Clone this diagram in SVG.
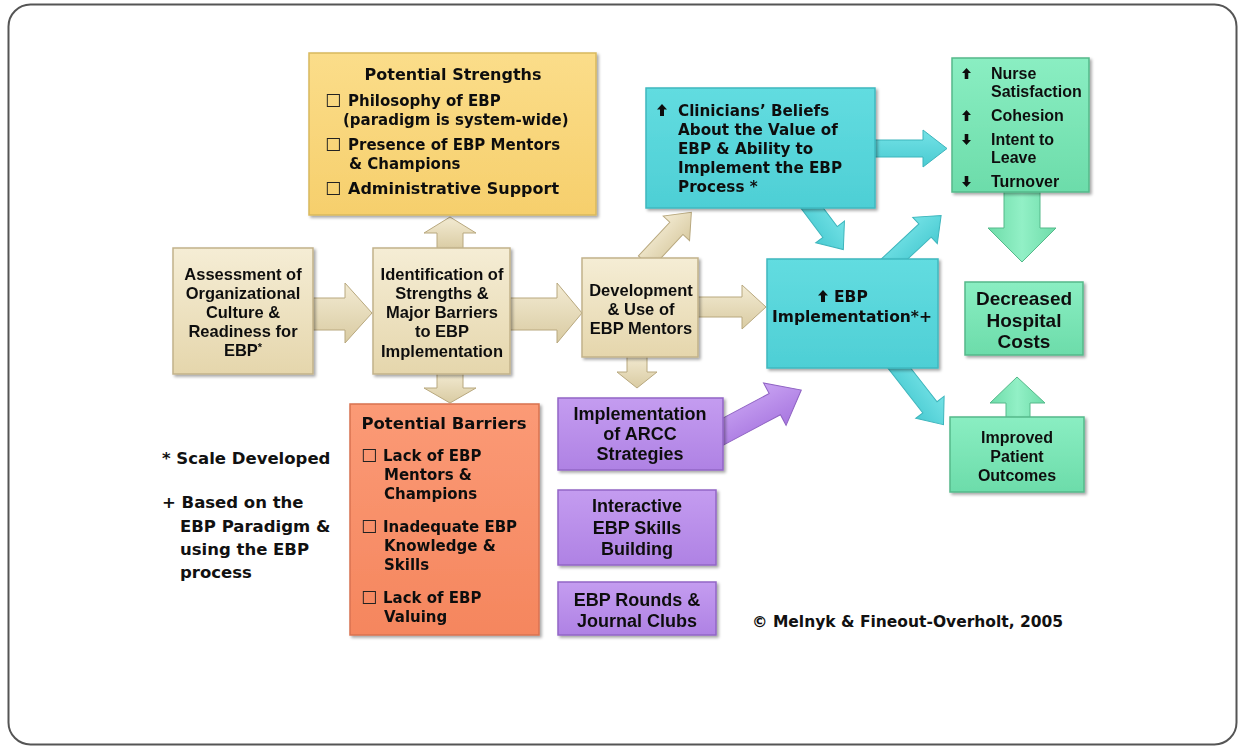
<svg xmlns="http://www.w3.org/2000/svg" width="1238" height="746" viewBox="0 0 1238 746">
<defs>
<style>
.dv{font-family:"DejaVu Sans","Noto Sans",sans-serif;font-weight:bold;fill:#111}
.lb{font-family:"Liberation Sans",Arial,sans-serif;font-weight:bold;fill:#111}
.c{text-anchor:middle}
.cb{font-family:"DejaVu Sans","Noto Sans",sans-serif;font-size:18px;fill:#222}
.box{filter:url(#sh)}
.arB{fill:url(#gArB);stroke:#B8A87E;stroke-width:1}
.arC{fill:url(#gArC);stroke:#3DB5BC;stroke-width:1}
.arG{fill:url(#gArG);stroke:#55B98A;stroke-width:1}
.arP{fill:url(#gArP);stroke:#8E62C2;stroke-width:1}
.ic{fill:#111}
</style>
<filter id="sh" x="-10%" y="-10%" width="130%" height="130%">
<feDropShadow dx="2" dy="2" stdDeviation="1.5" flood-color="#000" flood-opacity="0.35"/>
</filter>
<symbol id="up" viewBox="0 0 10 12" overflow="visible"><polygon points="5,0 10,5.5 7,5.5 7,12 3,12 3,5.5 0,5.5"/></symbol>
<symbol id="down" viewBox="0 0 10 12" overflow="visible"><polygon points="5,12 10,6.5 7,6.5 7,0 3,0 3,6.5 0,6.5"/></symbol>
<linearGradient id="gBeige" x1="0" y1="0" x2="0" y2="1"><stop offset="0" stop-color="#F5EDD5"/><stop offset="1" stop-color="#E5D6AC"/></linearGradient>
<linearGradient id="gYellow" x1="0" y1="0" x2="0" y2="1"><stop offset="0" stop-color="#FBDD8A"/><stop offset="1" stop-color="#F6CF6C"/></linearGradient>
<linearGradient id="gCyan" x1="0" y1="0" x2="0" y2="1"><stop offset="0" stop-color="#62DCE0"/><stop offset="1" stop-color="#4ECFD5"/></linearGradient>
<linearGradient id="gGreen" x1="0" y1="0" x2="0" y2="1"><stop offset="0" stop-color="#8AEEC2"/><stop offset="1" stop-color="#6CDCAA"/></linearGradient>
<linearGradient id="gOrange" x1="0" y1="0" x2="0" y2="1"><stop offset="0" stop-color="#FB9A76"/><stop offset="1" stop-color="#F5865E"/></linearGradient>
<linearGradient id="gPurple" x1="0" y1="0" x2="0" y2="1"><stop offset="0" stop-color="#C49CF0"/><stop offset="1" stop-color="#AF82E4"/></linearGradient>
<linearGradient id="gArB" x1="0" y1="0" x2="0" y2="1"><stop offset="0" stop-color="#F3EBD3"/><stop offset="1" stop-color="#D9CBA2"/></linearGradient>
<linearGradient id="gArC" x1="0" y1="0" x2="0" y2="1"><stop offset="0" stop-color="#74E2E6"/><stop offset="1" stop-color="#4ACBD2"/></linearGradient>
<linearGradient id="gArG" x1="0" y1="0" x2="1" y2="0"><stop offset="0" stop-color="#6EDCA9"/><stop offset="0.5" stop-color="#92F0C6"/><stop offset="1" stop-color="#6EDCA9"/></linearGradient>
<linearGradient id="gArP" x1="0" y1="0" x2="0" y2="1"><stop offset="0" stop-color="#C8A2F2"/><stop offset="1" stop-color="#A877E0"/></linearGradient>
</defs>

<rect x="0" y="0" width="1238" height="746" fill="#fff"/>
<rect x="8.5" y="4.5" width="1228" height="740" rx="22" fill="#fff" stroke="#555" stroke-width="2"/>

<g id="connectors">
<polygon class="arB" points="313,298 345,298 345,283 372,313 345,343 345,330 313,330"/>
<polygon class="arB" points="510,298 557,298 557,283 582,313 557,343 557,330 510,330"/>
<polygon class="arB" points="697,297 742,297 742,285 766,307 742,329 742,317 697,317"/>
<polygon class="arB" points="437,250 437,233 424,233 450,217 476,233 463,233 463,250"/>
<polygon class="arB" points="437,372 437,388 424,388 450,403 476,388 463,388 463,372"/>
<polygon class="arB" points="0,-9 46,-9 46,-18 68,0 46,18 46,9 0,9" transform="translate(645,262) rotate(-47)"/>
<polygon class="arB" points="627,355 627,372 617,372 637,388 657,372 647,372 647,355"/>
<polygon class="arC" points="873,140 923,140 923,130 947,148.5 923,167 923,157 873,157"/>
<polygon class="arC" points="0,-9 40,-9 40,-18 62,0 40,18 40,9 0,9" transform="translate(806,200) rotate(53)"/>
<polygon class="arC" points="0,-9 52,-9 52,-18 74,0 52,18 52,9 0,9" transform="translate(887,266) rotate(-43)"/>
<polygon class="arC" points="0,-9 60,-9 60,-18 82,0 60,18 60,9 0,9" transform="translate(893,360) rotate(52)"/>
<polygon class="arG" points="1004,190 1004,228 988,228 1022,262 1056,228 1040,228 1040,190"/>
<polygon class="arG" points="1006,419 1006,403 990,403 1017,377 1045,403 1030,403 1030,419"/>
<polygon class="arP" points="0,-12 70,-12 70,-24 100,0 70,24 70,12 0,12" transform="translate(713,437) rotate(-28)"/>
</g>

<g id="strengths" class="box">
<rect x="309" y="53" width="287" height="162" fill="url(#gYellow)" stroke="#D9B95E" stroke-width="1.5"/>
<text class="dv c" x="453" y="80" font-size="16">Potential Strengths</text>
<text class="cb" x="325" y="107">☐</text>
<text class="dv" x="348" y="106" font-size="15">Philosophy of EBP</text>
<text class="dv" x="343" y="125" font-size="15">(paradigm is system-wide)</text>
<text class="cb" x="325" y="151">☐</text>
<text class="dv" x="348" y="150" font-size="15">Presence of EBP Mentors</text>
<text class="dv" x="349" y="169" font-size="15">&amp; Champions</text>
<text class="cb" x="325" y="195">☐</text>
<text class="dv" x="348" y="194" font-size="16">Administrative Support</text>
</g>

<g id="assessment" class="box">
<rect x="173" y="248" width="140" height="126" fill="url(#gBeige)" stroke="#C2B28A" stroke-width="1.5"/>
<text class="lb c" x="243" y="280" font-size="16.5">Assessment of</text>
<text class="lb c" x="243" y="299" font-size="16.5">Organizational</text>
<text class="lb c" x="243" y="318" font-size="16.5">Culture &amp;</text>
<text class="lb c" x="243" y="337" font-size="16.5">Readiness for</text>
<text class="lb c" x="243" y="356" font-size="16.5">EBP<tspan font-size="11" dy="-5">*</tspan></text>
</g>

<g id="identification" class="box">
<rect x="373" y="248" width="137" height="126" fill="url(#gBeige)" stroke="#C2B28A" stroke-width="1.5"/>
<text class="lb c" x="442" y="280" font-size="16.5">Identification of</text>
<text class="lb c" x="442" y="299" font-size="16.5">Strengths &amp;</text>
<text class="lb c" x="442" y="318" font-size="16.5">Major Barriers</text>
<text class="lb c" x="442" y="337" font-size="16.5">to EBP</text>
<text class="lb c" x="442" y="357" font-size="16.5">Implementation</text>
</g>

<g id="development" class="box">
<rect x="582" y="258" width="116" height="99" fill="url(#gBeige)" stroke="#C2B28A" stroke-width="1.5"/>
<text class="lb c" x="641" y="296" font-size="16.5">Development</text>
<text class="lb c" x="641" y="315" font-size="16.5">&amp; Use of</text>
<text class="lb c" x="641" y="334" font-size="16.5">EBP Mentors</text>
</g>

<g id="beliefs" class="box">
<rect x="646" y="88" width="229" height="120" fill="url(#gCyan)" stroke="#3FB8BF" stroke-width="1.5"/>
<use href="#up" class="ic" x="656" y="104" width="12" height="12"/>
<text class="dv" x="678" y="116" font-size="15.2">Clinicians’ Beliefs</text>
<text class="dv" x="678" y="135" font-size="15.2">About the Value of</text>
<text class="dv" x="678" y="154" font-size="15.2">EBP &amp; Ability to</text>
<text class="dv" x="678" y="173" font-size="15.2">Implement the EBP</text>
<text class="dv" x="678" y="192" font-size="15.2">Process *</text>
</g>

<g id="ebp-implementation" class="box">
<rect x="767" y="259" width="171" height="109" fill="url(#gCyan)" stroke="#3FB8BF" stroke-width="1.5"/>
<use href="#up" class="ic" x="817" y="290" width="12" height="12"/>
<text class="dv" x="834" y="302" font-size="15.5">EBP</text>
<text class="dv c" x="852" y="322" font-size="15.5">Implementation*+</text>
</g>

<g id="nurse-outcomes" class="box">
<rect x="952" y="58" width="137" height="134" fill="url(#gGreen)" stroke="#55B98A" stroke-width="1.5"/>
<use href="#up" class="ic" x="962" y="68" width="9" height="11"/>
<text class="lb" x="991" y="79" font-size="16">Nurse</text>
<text class="lb" x="991" y="97" font-size="16">Satisfaction</text>
<use href="#up" class="ic" x="962" y="110" width="9" height="11"/>
<text class="lb" x="991" y="121" font-size="16">Cohesion</text>
<use href="#down" class="ic" x="962" y="134" width="9" height="11"/>
<text class="lb" x="991" y="145" font-size="16">Intent to</text>
<text class="lb" x="991" y="163" font-size="16">Leave</text>
<use href="#down" class="ic" x="962" y="176" width="9" height="11"/>
<text class="lb" x="991" y="187" font-size="16">Turnover</text>
</g>

<g id="hospital-costs" class="box">
<rect x="965" y="282" width="118" height="73" fill="url(#gGreen)" stroke="#55B98A" stroke-width="1.5"/>
<text class="lb c" x="1024" y="305" font-size="19">Decreased</text>
<text class="lb c" x="1024" y="327" font-size="19">Hospital</text>
<text class="lb c" x="1024" y="348" font-size="19">Costs</text>
</g>

<g id="patient-outcomes" class="box">
<rect x="950" y="417" width="134" height="75" fill="url(#gGreen)" stroke="#55B98A" stroke-width="1.5"/>
<text class="lb c" x="1017" y="443" font-size="16">Improved</text>
<text class="lb c" x="1017" y="462" font-size="16">Patient</text>
<text class="lb c" x="1017" y="481" font-size="16">Outcomes</text>
</g>

<g id="barriers" class="box">
<rect x="350" y="404" width="189" height="231" fill="url(#gOrange)" stroke="#D97250" stroke-width="1.5"/>
<text class="dv c" x="444" y="429" font-size="16.5">Potential Barriers</text>
<text class="cb" x="361" y="462">☐</text>
<text class="dv" x="383" y="461" font-size="15">Lack of EBP</text>
<text class="dv" x="384" y="480" font-size="15">Mentors &amp;</text>
<text class="dv" x="384" y="499" font-size="15">Champions</text>
<text class="cb" x="361" y="533">☐</text>
<text class="dv" x="383" y="532" font-size="15">Inadequate EBP</text>
<text class="dv" x="384" y="551" font-size="15">Knowledge &amp;</text>
<text class="dv" x="384" y="570" font-size="15">Skills</text>
<text class="cb" x="361" y="604">☐</text>
<text class="dv" x="383" y="603" font-size="15">Lack of EBP</text>
<text class="dv" x="384" y="622" font-size="15">Valuing</text>
</g>

<g id="arcc" class="box">
<rect x="558" y="398" width="165" height="72" fill="url(#gPurple)" stroke="#9266C6" stroke-width="1.5"/>
<text class="lb c" x="640" y="420" font-size="18">Implementation</text>
<text class="lb c" x="640" y="440" font-size="18">of ARCC</text>
<text class="lb c" x="640" y="460" font-size="18">Strategies</text>
</g>

<g id="skills" class="box">
<rect x="558" y="490" width="158" height="75" fill="url(#gPurple)" stroke="#9266C6" stroke-width="1.5"/>
<text class="lb c" x="637" y="512" font-size="18">Interactive</text>
<text class="lb c" x="637" y="534" font-size="18">EBP Skills</text>
<text class="lb c" x="637" y="555" font-size="18">Building</text>
</g>

<g id="rounds" class="box">
<rect x="558" y="582" width="158" height="53" fill="url(#gPurple)" stroke="#9266C6" stroke-width="1.5"/>
<text class="lb c" x="637" y="606" font-size="18">EBP Rounds &amp;</text>
<text class="lb c" x="637" y="627" font-size="18">Journal Clubs</text>
</g>

<g id="notes">
<text class="dv" x="162" y="464" font-size="16.5">* Scale Developed</text>
<text class="dv" x="162" y="508" font-size="16.5">+ Based on the</text>
<text class="dv" x="180" y="532" font-size="16.5">EBP Paradigm &amp;</text>
<text class="dv" x="180" y="555" font-size="16.5">using the EBP</text>
<text class="dv" x="180" y="578" font-size="16.5">process</text>
</g>

<g id="copyright">
<text class="dv" x="752" y="627" font-size="15.5">© Melnyk &amp; Fineout-Overholt, 2005</text>
</g>
</svg>
